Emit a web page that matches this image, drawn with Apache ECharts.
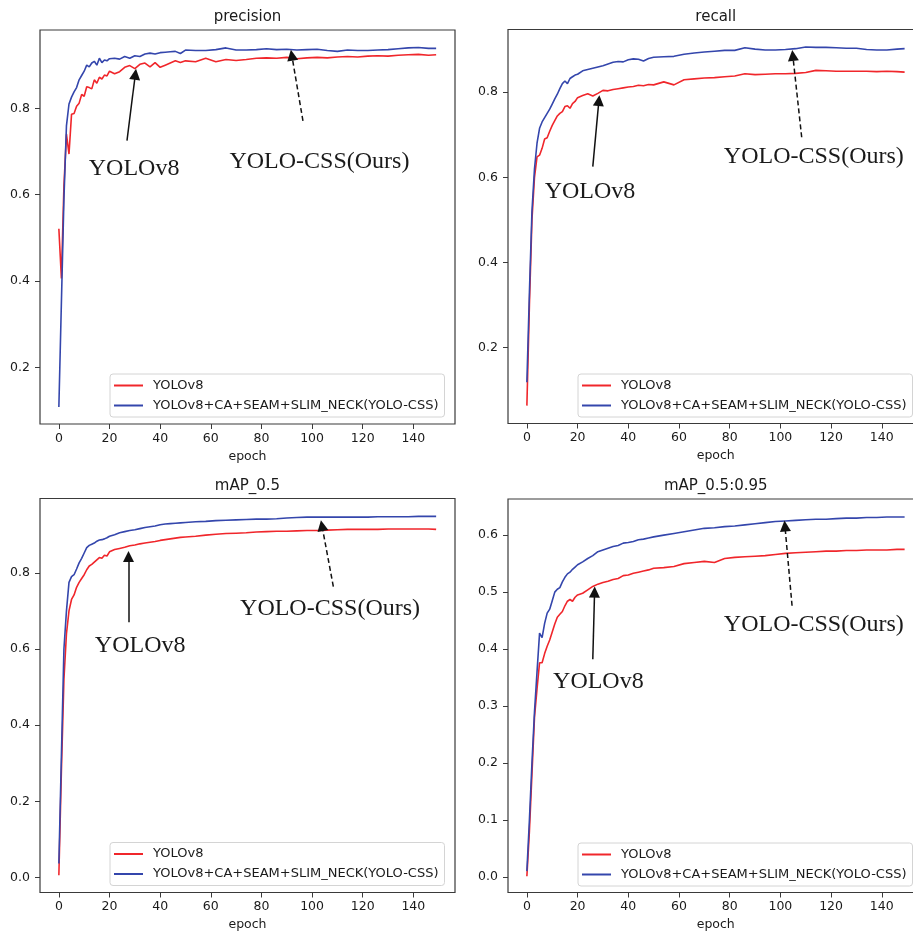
<!DOCTYPE html>
<html>
<head>
<meta charset="utf-8">
<title>YOLOv8 vs YOLO-CSS</title>
<script src="https://cdn.jsdelivr.net/npm/echarts@6/dist/echarts.min.js"></script>
<style>
	html, body { margin: 0; padding: 0; background: #fff; }
	#chart { width: 913px; height: 933px; }
</style>
</head>
<body>
<div id="chart"></div>
<script>
	// epochs (denser where the curves move fast)
	var epochs = [0, 1, 2, 3, 4, 5, 6, 7, 8, 9, 10, 11, 12, 13, 14, 15, 16, 17, 18, 19, 20,
		22, 24, 26, 28, 30, 32, 34, 36, 38, 40, 42, 44, 46, 48, 50,
		54, 58, 62, 66, 70, 74, 78, 82, 86, 90, 94, 98, 102, 106, 110, 114, 118, 122, 126, 130, 134, 138, 142, 146, 149];

	var precisionV8 = [0.521, 0.406, 0.62, 0.74, 0.694, 0.786, 0.788, 0.805, 0.812, 0.832, 0.828, 0.85, 0.848, 0.845, 0.866, 0.858, 0.872, 0.868, 0.877, 0.875, 0.886,
		0.88, 0.885, 0.895, 0.899, 0.892, 0.902, 0.905, 0.896, 0.906, 0.895, 0.9, 0.905, 0.91, 0.906, 0.91,
		0.908, 0.916, 0.908, 0.913, 0.911, 0.913, 0.916, 0.917, 0.916, 0.918, 0.915, 0.917, 0.918, 0.917, 0.919, 0.92, 0.919, 0.921, 0.922, 0.921, 0.923, 0.924, 0.925, 0.923, 0.924];
	var precisionCSS = [0.108, 0.35, 0.59, 0.76, 0.81, 0.826, 0.838, 0.848, 0.866, 0.876, 0.886, 0.9, 0.896, 0.905, 0.909, 0.9, 0.916, 0.906, 0.912, 0.91, 0.915,
		0.916, 0.914, 0.92, 0.916, 0.922, 0.92, 0.926, 0.928, 0.926, 0.929, 0.93, 0.931, 0.932, 0.927, 0.935,
		0.934, 0.934, 0.936, 0.94, 0.935, 0.935, 0.936, 0.938, 0.936, 0.937, 0.935, 0.936, 0.937, 0.934, 0.932, 0.935, 0.934, 0.934, 0.935, 0.936, 0.938, 0.94, 0.941, 0.939, 0.939];

	var recallV8 = [0.064, 0.30, 0.50, 0.60, 0.648, 0.652, 0.668, 0.69, 0.693, 0.708, 0.722, 0.733, 0.744, 0.75, 0.754, 0.766, 0.768, 0.762, 0.773, 0.778, 0.787,
		0.792, 0.796, 0.791, 0.797, 0.804, 0.803, 0.806, 0.808, 0.81, 0.812, 0.813, 0.816, 0.815, 0.818, 0.817,
		0.824, 0.817, 0.829, 0.831, 0.833, 0.834, 0.836, 0.838, 0.843, 0.841, 0.842, 0.843, 0.843, 0.844, 0.846, 0.851, 0.85, 0.849, 0.849, 0.849, 0.849, 0.848, 0.849, 0.848, 0.847];
	var recallCSS = [0.119, 0.33, 0.52, 0.62, 0.68, 0.715, 0.73, 0.74, 0.75, 0.76, 0.772, 0.784, 0.795, 0.808, 0.82, 0.826, 0.82, 0.832, 0.836, 0.84, 0.842,
		0.85, 0.853, 0.856, 0.859, 0.862, 0.866, 0.87, 0.872, 0.871, 0.876, 0.878, 0.877, 0.873, 0.879, 0.882,
		0.883, 0.884, 0.889, 0.892, 0.894, 0.896, 0.898, 0.898, 0.904, 0.901, 0.899, 0.899, 0.9, 0.902, 0.906, 0.905, 0.905, 0.904, 0.903, 0.903, 0.9, 0.899, 0.899, 0.901, 0.902];

	var map50V8 = [0.006, 0.28, 0.52, 0.64, 0.70, 0.73, 0.742, 0.762, 0.775, 0.785, 0.795, 0.808, 0.818, 0.822, 0.828, 0.834, 0.84, 0.838, 0.846, 0.844, 0.855,
		0.861, 0.864, 0.867, 0.871, 0.873, 0.876, 0.878, 0.88, 0.882, 0.885, 0.887, 0.889, 0.891, 0.893, 0.894,
		0.896, 0.899, 0.901, 0.903, 0.904, 0.905, 0.907, 0.908, 0.909, 0.909, 0.91, 0.911, 0.911, 0.912, 0.913, 0.914, 0.914, 0.914, 0.914, 0.915, 0.915, 0.915, 0.915, 0.915, 0.914];
	var map50CSS = [0.037, 0.32, 0.6, 0.70, 0.775, 0.79, 0.795, 0.81, 0.826, 0.838, 0.852, 0.866, 0.872, 0.875, 0.878, 0.883, 0.886, 0.887, 0.889, 0.892, 0.896,
		0.9, 0.905, 0.908, 0.911, 0.913, 0.916, 0.919, 0.921, 0.923, 0.926, 0.928, 0.929, 0.93, 0.931, 0.932,
		0.934, 0.935, 0.937, 0.938, 0.939, 0.94, 0.941, 0.941, 0.942, 0.944, 0.945, 0.946, 0.946, 0.946, 0.946, 0.946, 0.946, 0.946, 0.947, 0.947, 0.947, 0.947, 0.948, 0.948, 0.948];

	var map5095V8 = [0.001, 0.08, 0.18, 0.28, 0.33, 0.376, 0.376, 0.392, 0.405, 0.416, 0.43, 0.444, 0.456, 0.461, 0.466, 0.476, 0.484, 0.487, 0.484, 0.491, 0.495,
		0.498, 0.504, 0.51, 0.514, 0.517, 0.519, 0.522, 0.524, 0.529, 0.53, 0.533, 0.535, 0.537, 0.539, 0.542,
		0.543, 0.545, 0.55, 0.552, 0.554, 0.552, 0.559, 0.561, 0.562, 0.563, 0.564, 0.566, 0.568, 0.569, 0.57, 0.571, 0.572, 0.572, 0.573, 0.573, 0.574, 0.574, 0.574, 0.575, 0.575];
	var map5095CSS = [0.01, 0.1, 0.2, 0.29, 0.36, 0.428, 0.42, 0.445, 0.463, 0.47, 0.485, 0.5, 0.505, 0.508, 0.518, 0.526, 0.532, 0.535, 0.54, 0.544, 0.548,
		0.553, 0.559, 0.564, 0.571, 0.574, 0.577, 0.58, 0.582, 0.586, 0.587, 0.589, 0.592, 0.593, 0.595, 0.597,
		0.6, 0.603, 0.606, 0.609, 0.612, 0.613, 0.615, 0.616, 0.618, 0.62, 0.622, 0.624, 0.625, 0.626, 0.627, 0.628, 0.628, 0.629, 0.63, 0.63, 0.631, 0.631, 0.632, 0.632, 0.632];

	var xTicks = [0, 20, 40, 60, 80, 100, 120, 140];
	var yTicksRecall = [0.2, 0.4, 0.6, 0.8];
	var yTicksMap50 = [0.0, 0.2, 0.4, 0.6, 0.8];
	var yTicksMap5095 = [0.0, 0.1, 0.2, 0.3, 0.4, 0.5, 0.6];

	var seriesNames = ['YOLOv8', 'YOLOv8+CA+SEAM+SLIM_NECK(YOLO-CSS)'];

	// annotations, in data units: [arrow tail, arrow head, text centre]
	var notesPrecision = {v8: [[26.9, 0.725], [30.2, 0.879], [29.7, 0.661]], css: [[96.4, 0.771], [92.0, 0.923], [102.9, 0.676]]};
	var notesRecall = {v8: [[26.0, 0.625], [28.4, 0.780], [24.9, 0.566]], css: [[108.4, 0.694], [104.9, 0.886], [113.2, 0.649]]};
	var notesMap50 = {v8: [[27.5, 0.670], [27.5, 0.843], [32.1, 0.609]], css: [[108.4, 0.764], [103.9, 0.924], [107.1, 0.706]]};
	var notesMap5095 = {v8: [[26.0, 0.382], [26.7, 0.500], [28.2, 0.343]], css: [[104.6, 0.476], [101.8, 0.616], [113.2, 0.442]]};

	var RED = '#f0262b';
	var BLUE = '#3446ac';
	var INK = '#1a1a1a';
	var FONT = 'DejaVu Sans';

	var panels = [
		{title: 'precision', box: [40, 30, 415, 394], y: [0.0685, 0.9815], ticks: yTicksRecall, red: precisionV8, blue: precisionCSS, notes: notesPrecision, legend: [110, 374]},
		{title: 'recall', box: [508, 29.5, 415.5, 394], y: [0.022, 0.947], ticks: yTicksRecall, red: recallV8, blue: recallCSS, notes: notesRecall, legend: [578, 374]},
		{title: 'mAP_0.5', box: [40, 498.5, 415, 394], y: [-0.039, 0.995], ticks: yTicksMap50, red: map50V8, blue: map50CSS, notes: notesMap50, legend: [110, 842.5]},
		{title: 'mAP_0.5:0.95', box: [508, 499, 415.5, 393.5], y: [-0.0275, 0.6635], ticks: yTicksMap5095, red: map5095V8, blue: map5095CSS, notes: notesMap5095, legend: [578, 843]}
	];

	function pairs(values) {
		return epochs.map(function (e, i) { return [e, values[i]]; });
	}

	var option = {
		animation: false,
		backgroundColor: '#fff',
		title: [], grid: [], xAxis: [], yAxis: [], legend: [], series: []
	};

	panels.forEach(function (p, i) {
		var b = p.box;
		option.title.push({
			text: p.title, left: b[0] + b[2] / 2, top: b[1] - 20, textAlign: 'center', padding: 0,
			textStyle: {fontFamily: FONT, fontSize: 15, fontWeight: 'normal', color: INK}
		});
		option.grid.push({
			left: b[0], top: b[1], width: b[2], height: b[3], outerBoundsMode: 'none',
			show: true, borderColor: '#3a3a3a', borderWidth: 1.2, backgroundColor: 'transparent'
		});
		option.xAxis.push({
			gridIndex: i, type: 'value', min: -7.45, max: 156.45,
			name: 'epoch', nameLocation: 'middle', nameGap: 26,
			nameTextStyle: {fontFamily: FONT, fontSize: 12.5, color: INK},
			axisLine: {show: false, onZero: false},
			axisTick: {show: true, length: 5, customValues: xTicks, lineStyle: {color: '#3a3a3a'}},
			axisLabel: {customValues: xTicks, margin: 8, fontFamily: FONT, fontSize: 12.5, color: INK},
			splitLine: {show: false}
		});
		option.yAxis.push({
			gridIndex: i, type: 'value', min: p.y[0], max: p.y[1],
			axisLine: {show: false, onZero: false},
			axisTick: {show: true, length: 5, customValues: p.ticks, lineStyle: {color: '#3a3a3a'}},
			axisLabel: {
				customValues: p.ticks, margin: 10, fontFamily: FONT, fontSize: 12.5, color: INK,
				formatter: function (v) { return v.toFixed(1); }
			},
			splitLine: {show: false}
		});
		option.legend.push({
			orient: 'vertical', left: p.legend[0], top: p.legend[1], data: seriesNames,
			icon: 'rect', itemWidth: 29, itemHeight: 2, itemGap: 7, selectedMode: false,
			padding: [5, 6, 5, 4], backgroundColor: '#fff', borderColor: '#d4d4d4', borderWidth: 1, borderRadius: 3,
			textStyle: {fontFamily: FONT, fontSize: 13, color: INK, padding: [0, 0, 0, 5]}
		});
		option.series.push({
			name: seriesNames[0], type: 'line', xAxisIndex: i, yAxisIndex: i,
			data: pairs(p.red), showSymbol: false, symbol: 'none', z: 2,
			itemStyle: {color: RED}, lineStyle: {color: RED, width: 1.6}
		});
		option.series.push({
			name: seriesNames[1], type: 'line', xAxisIndex: i, yAxisIndex: i,
			data: pairs(p.blue), showSymbol: false, symbol: 'none', z: 3,
			itemStyle: {color: BLUE}, lineStyle: {color: BLUE, width: 1.6},
			markLine: {
				silent: true, animation: false, symbol: ['none', 'triangle'], symbolSize: 11,
				label: {show: false}, emphasis: {disabled: true},
				lineStyle: {color: '#111', width: 1.5, type: 'solid'},
				data: [
					[{coord: p.notes.v8[0]}, {coord: p.notes.v8[1]}],
					[{coord: p.notes.css[0], lineStyle: {type: [5, 3]}}, {coord: p.notes.css[1]}]
				]
			},
			markPoint: {
				silent: true, animation: false, symbol: 'circle', symbolSize: 1,
				itemStyle: {color: 'rgba(0,0,0,0)'},
				label: {show: true, position: 'inside', formatter: '{b}', fontFamily: 'Liberation Serif', fontSize: 24, color: INK},
				data: [
					{name: 'YOLOv8', coord: p.notes.v8[2]},
					{name: 'YOLO-CSS(Ours)', coord: p.notes.css[2]}
				]
			}
		});
	});

	var myChart = echarts.init(document.getElementById('chart'));
	myChart.setOption(option);
</script>
</body>
</html>
